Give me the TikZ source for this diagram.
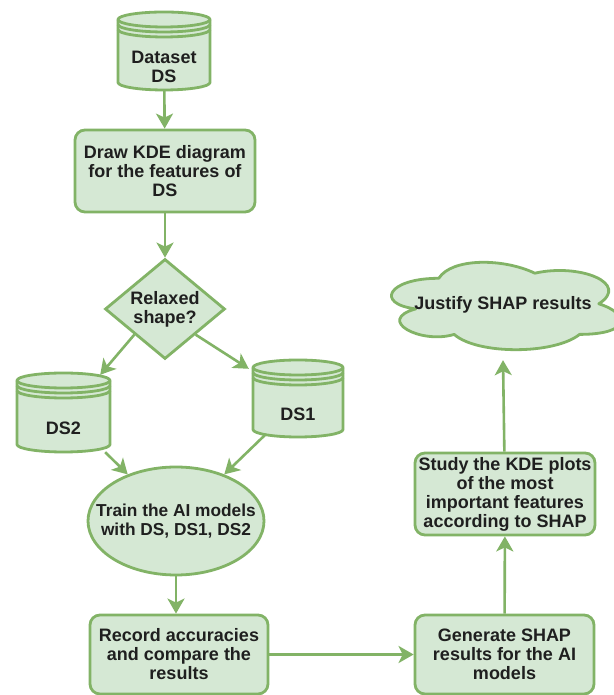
\documentclass[tikz,border=0pt]{standalone}
\usepackage{fontspec}
\setmainfont{Liberation Sans}
\usetikzlibrary{shapes.geometric,arrows.meta}
\definecolor{gfill}{HTML}{D5E8D4}
\definecolor{gline}{HTML}{82B366}
\definecolor{txt}{HTML}{1F1F1F}
\tikzset{
  lbl/.style={font=\fontsize{18}{19}\selectfont\bfseries, text=txt, align=center, inner sep=0pt},
  base/.style={lbl, line width=2.8pt, draw=gline, fill=gfill},
  procbox/.style={base, rectangle, rounded corners=10pt},
  decbox/.style={base, diamond, aspect=1.2},
  ellbox/.style={base, ellipse},
  anchorbox/.style={rectangle, inner sep=0pt, draw=none, fill=none},
  dsline/.style={line width=2.8pt, draw=gline, fill=gfill, line join=round},
  flow/.style={line width=2.6pt, draw=gline, -{Stealth[length=15pt,width=17pt,inset=4pt]}},
}
\newcommand\dstore[6]{%
  \node[anchorbox, minimum width=#4pt, minimum height=#5pt] (#1) at (#2,#3) {};
  \path[dsline] ({#2-#4/2},{#3+#5/2-7.5}) -- ({#2-#4/2},{#3-#5/2+7.5})
     arc[start angle=180, end angle=360, x radius={#4/2}, y radius=7.5]
     -- ({#2+#4/2},{#3+#5/2-7.5})
     arc[start angle=0, end angle=180, x radius={#4/2}, y radius=7.5] -- cycle;
  \foreach \off in {0,5,10}
    \draw[dsline, fill=none] ({#2-#4/2},{#3+#5/2-7.5-\off}) arc[start angle=180, end angle=360, x radius={#4/2}, y radius=7.5];
  \node[lbl] (#1T) at ([yshift=-16pt]#1.center) {#6};
}
\begin{document}
\begin{tikzpicture}[x=1pt, y=1pt]
  \useasboundingbox (0,0) rectangle (613,695);
  \fill[white] (0,0) rectangle (613,695);

  \dstore{ds}{164}{644}{92}{78}{Dataset\\DS}
  \node[procbox, minimum width=180pt, minimum height=82pt] (kde) at (165,524)
    {Draw KDE diagram\\for the features of\\DS};
  \node[decbox, minimum width=120pt, minimum height=100pt] (dia) at (165,386) {};
  \node[lbl] (diaT) at (dia.center) {Relaxed\\shape?};
  \dstore{ds2}{63.5}{282.5}{93}{79}{DS2}
  \dstore{ds1}{298}{296.5}{90}{77}{DS1}
  \node[ellbox, minimum width=176pt, minimum height=108pt] (ell) at (176,174) {};
  \node[lbl, font=\fontsize{17.3}{19}\selectfont\bfseries] (ellT) at (ell.center)
    {Train the AI models\\with DS, DS1, DS2};
  \node[procbox, minimum width=178pt, minimum height=79pt] (rec) at (179,40.5)
    {Record accuracies\\and compare the\\results};
  \node[procbox, minimum width=179pt, minimum height=79pt] (gen) at (504.5,40.5)
    {Generate SHAP\\results for the AI\\models};
  \node[procbox, minimum width=180pt, minimum height=82pt] (study) at (505,201)
    {Study the KDE plots\\of the most\\important features\\according to SHAP};

  % cloud (draw.io style outline)
  \node[anchorbox, minimum width=256pt, minimum height=102pt] (cloud) at (503,391) {};
  \begin{scope}[shift={(cloud.north west)}, x=256pt, y=-102pt]
    \path[dsline]
      (0.25,0.25) .. controls (0.05,0.25) and (0,0.5) .. (0.16,0.55)
      .. controls (0,0.66) and (0.18,0.9) .. (0.31,0.8)
      .. controls (0.4,1) and (0.7,1) .. (0.8,0.8)
      .. controls (1,0.8) and (1,0.6) .. (0.875,0.5)
      .. controls (1,0.3) and (0.8,0.1) .. (0.625,0.2)
      .. controls (0.5,0.05) and (0.3,0.05) .. (0.25,0.25) -- cycle;
  \end{scope}
  \node[lbl] (cloudT) at ([yshift=-1pt]cloud.center) {Justify SHAP results};

  \draw[flow] (ds) -- (kde);
  \draw[flow] (kde) -- (dia);
  \draw[flow] (dia.south west) -- ([xshift=-10pt,yshift=-2pt]ds2.north east);
  \draw[flow] (dia.south east) -- ([xshift=-4pt,yshift=-9pt]ds1.north west);
  \draw[flow] ([xshift=-5pt]ds2.south east) -- (ell.136);
  \draw[flow] ([xshift=12pt,yshift=2pt]ds1.south west) -- (ell.44);
  \draw[flow] (ell.south) -- (ell.south |- rec.north);
  \draw[flow] (rec) -- (gen);
  \draw[flow] (gen) -- (study);
  \draw[flow] (study) -- ([yshift=-5pt]cloud.south);
\end{tikzpicture}
\end{document}
